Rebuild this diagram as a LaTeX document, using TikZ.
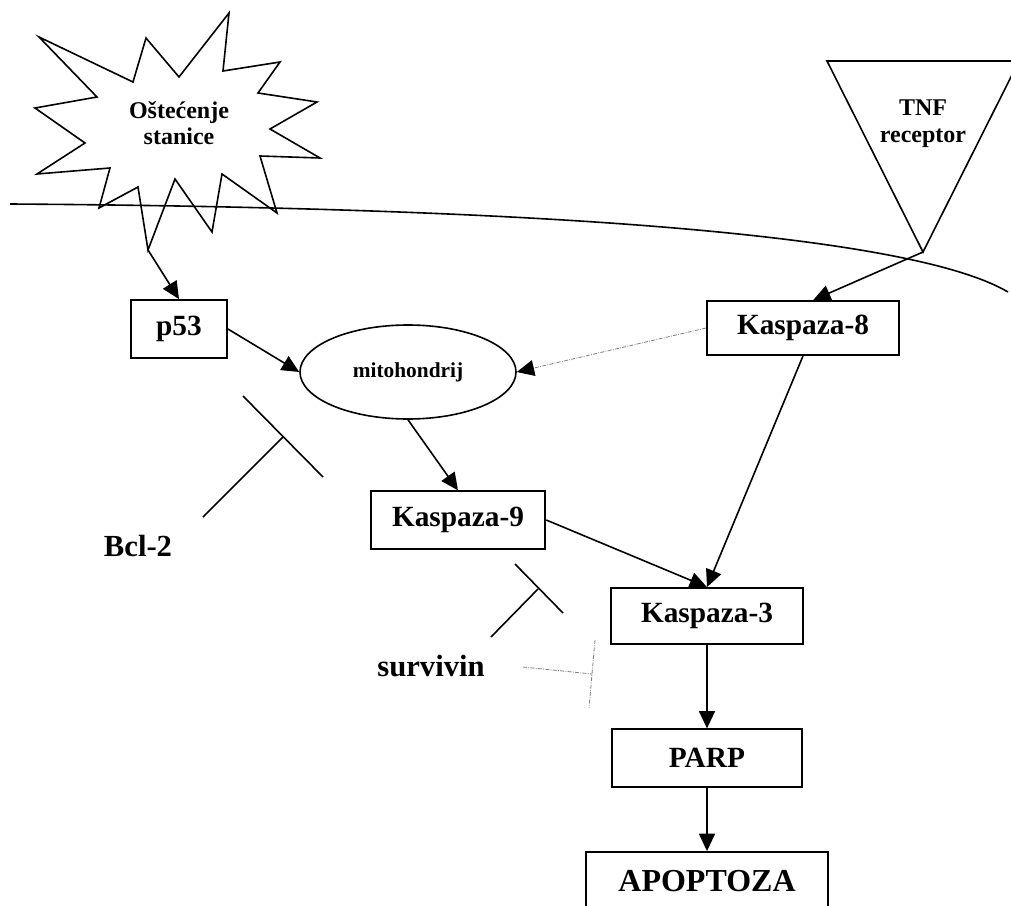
\documentclass[tikz,border=0pt]{standalone}
\usepackage{fontspec}
\setmainfont{Liberation Serif}
\usetikzlibrary{arrows.meta,shapes.geometric}
\newcommand\boxfont{\fontsize{22}{24}\selectfont\bfseries}
\tikzset{
  box/.style={draw, line width=1.4pt, inner sep=0pt, font=\boxfont},
  arr/.style={-{Triangle[length=13pt,width=12pt]}, line width=1.2pt},
  dotarr/.style={-{Triangle[length=13pt,width=12pt,color=black]}, gray, line width=0.6pt,
    dash pattern=on 3pt off 1pt on 0.6pt off 1pt},
  dotline/.style={gray, line width=0.6pt, dash pattern=on 3pt off 1pt on 0.6pt off 1pt},
  inhib/.style={line width=1.2pt},
  outline/.style={line width=1.2pt, line join=miter},
  smalltext/.style={font=\fontsize{18}{20}\selectfont\bfseries, align=center},
  bigtext/.style={font=\fontsize{23}{26}\selectfont\bfseries}
}

\begin{document}
\begin{tikzpicture}[x=0.75pt, y=-0.75pt]
\useasboundingbox (0,0) rectangle (1011,906);

\draw[line width=1.2pt] (10,204) .. controls (600,208) and (920,240) .. (1008,292);

\draw[outline] (39,37) -- (133,82) -- (146,38) -- (179,77) -- (229,13) -- (223,71)
  -- (280,62) -- (258,93) -- (317,102) -- (270,129) -- (320,158) -- (260,156)
  -- (277,213) -- (222,174) -- (212,232) -- (175,179) -- (148,250) -- (138,187)
  -- (99,208) -- (110,168) -- (37,174) -- (85,143) -- (35,108) -- (97,97) -- cycle;
\coordinate (burst) at (148,250);
\node[smalltext] (damage) at (179,123) {Oštećenje\\stanice};

\draw[outline] (827,61) -- (1019,61) -- (923,252) -- cycle;
\coordinate (tnf) at (923,252);
\node[smalltext] (receptor) at (923,124) {TNF\\receptor};

\node[box, minimum width=72pt, minimum height=43.5pt] (p53) at (179,329) {p53};
\node[box, minimum width=144pt, minimum height=40.5pt] (k8) at (803,328) {Kaspaza-8};
\node[draw, ellipse, line width=1.2pt, inner sep=0pt, minimum width=162pt, minimum height=70.5pt,
  font=\fontsize{16}{18}\selectfont\bfseries] (mito) at (408,372) {mitohondrij};
\node[box, minimum width=131pt, minimum height=43pt] (k9) at (458,520) {Kaspaza-9};
\node[box, minimum width=144pt, minimum height=42pt] (k3) at (707,616) {Kaspaza-3};
\node[box, minimum width=142.5pt, minimum height=43pt] (parp) at (707,758) {PARP};
\node[box, minimum width=181pt, minimum height=43.5pt,
  font=\fontsize{24}{26}\selectfont\bfseries] (apo) at (707,881) {APOPTOZA};

\node[bigtext] (bcl) at (138,546) {Bcl-2};
\node[bigtext] (surv) at (431,666) {survivin};

\draw[arr] (burst) -- (p53.north);
\draw[arr] (tnf) -- (k8.70);
\draw[arr] (p53.east) -- (mito.west);
\draw[dotarr] (k8.west) -- (mito.east);
\draw[arr] (mito.south) -- (k9.north);
\draw[arr] (k9.east) -- (k3.north);
\draw[arr] (k8.south) -- (k3.north);
\draw[arr] (k3.south) -- (parp.north);
\draw[arr] (parp.south) -- (apo.north);

\draw[inhib] (203,517) -- (283,437);
\draw[inhib] (243,396) -- (323,477);
\draw[inhib] (491,637) -- (538,589);
\draw[inhib] (515,564) -- (563,613);
\draw[dotline] (523,667) -- (592,674);
\draw[dotline] (595,640) -- (589,708);
\end{tikzpicture}
\end{document}
